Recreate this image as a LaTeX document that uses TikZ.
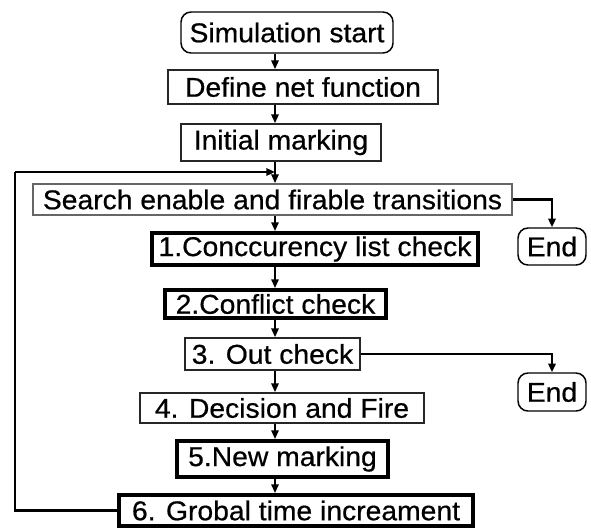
\documentclass[tikz,border=0pt]{standalone}
\usepackage{fontspec}
\setmainfont{Liberation Sans}[FakeStretch=1.04, FakeBold=0.6]
\usetikzlibrary{arrows.meta}
\begin{document}
\begin{tikzpicture}[x=0.75pt,y=-0.75pt,
  every node/.style={font=\fontsize{20.4}{22}\selectfont, inner sep=0pt, anchor=center},
  thinbox/.style={draw=black!85, line width=1.3pt, rectangle},
  greybox/.style={draw=black!60, line width=1.4pt, rectangle},
  thickbox/.style={draw=black, line width=3pt, rectangle},
  roundbox/.style={draw=black, line width=1.1pt, rounded corners=7.5pt, rectangle},
  flow/.style={line width=1.3pt, -{Triangle[length=6.5pt,width=5.5pt]}},
  loopline/.style={line width=1.7pt}]
\useasboundingbox (0,0) rectangle (591,529);

% vertical axis of the main flow
\coordinate (axis) at (275,0);

% process steps
\node[roundbox, minimum width=159pt, minimum height=30.75pt] (start) at (287,32.5) {Simulation start};
\node[thinbox, minimum width=202.5pt, minimum height=25.5pt] (define) at (303,87) {Define net function};
\node[thinbox, minimum width=150pt, minimum height=27.75pt] (init) at (281,142.5) {Initial marking};
\node[greybox, minimum width=359.25pt, minimum height=23.25pt] (search) at (272.5,199.5) {Search enable and firable transitions};
\node[thickbox, minimum width=244.5pt, minimum height=24pt] (conc) at (315,249) {1.Conccurency list check};
\node[roundbox, minimum width=51pt, minimum height=27.75pt] (endA) at (552,246.5) {End};
\node[thickbox, minimum width=165.75pt, minimum height=21pt] (confl) at (275.5,304) {2.Conflict check};
\node[thinbox, minimum width=131.25pt, minimum height=24pt] (out) at (272.5,354) {3. Out check};
\node[roundbox, minimum width=51pt, minimum height=28.5pt] (endB) at (552,392) {End};
\node[thinbox, minimum width=213pt, minimum height=22.5pt] (fire) at (282,408) {4. Decision and Fire};
\node[thickbox, minimum width=158.25pt, minimum height=27pt] (mark) at (282.5,459) {5.New marking};
\node[thickbox, minimum width=265.5pt, minimum height=23.25pt] (time) at (296,510.5) {6. Grobal time increament};

% feedback route
\coordinate (loopcorner) at (15,172);
\coordinate (merge) at (275,172);

% main flow
\draw[flow] (start.south -| axis) -- (define.north -| axis);
\draw[flow] (define.south -| axis) -- (init.north -| axis);
\draw[flow] (init.south -| axis) -- (search.north -| axis);
\draw[flow] (search.south -| axis) -- (conc.north -| axis);
\draw[flow] (conc.south -| axis) -- (confl.north -| axis);
\draw[flow] (confl.south -| axis) -- (out.north -| axis);
\draw[flow] (out.south -| axis) -- (fire.north -| axis);
\draw[flow] (fire.south -| axis) -- (mark.north -| axis);
\draw[flow] (mark.south -| axis) -- (time.north -| axis);

% exits
\draw[flow, line width=1.7pt] (search.east) -| (endA.north);
\draw[flow, line width=1.7pt] (out.east) -| (endB.north);

% loop back
\draw[loopline] (time.west) -| (loopcorner);
\draw[flow, line width=1.7pt] (loopcorner) -- (merge);
\end{tikzpicture}
\end{document}
